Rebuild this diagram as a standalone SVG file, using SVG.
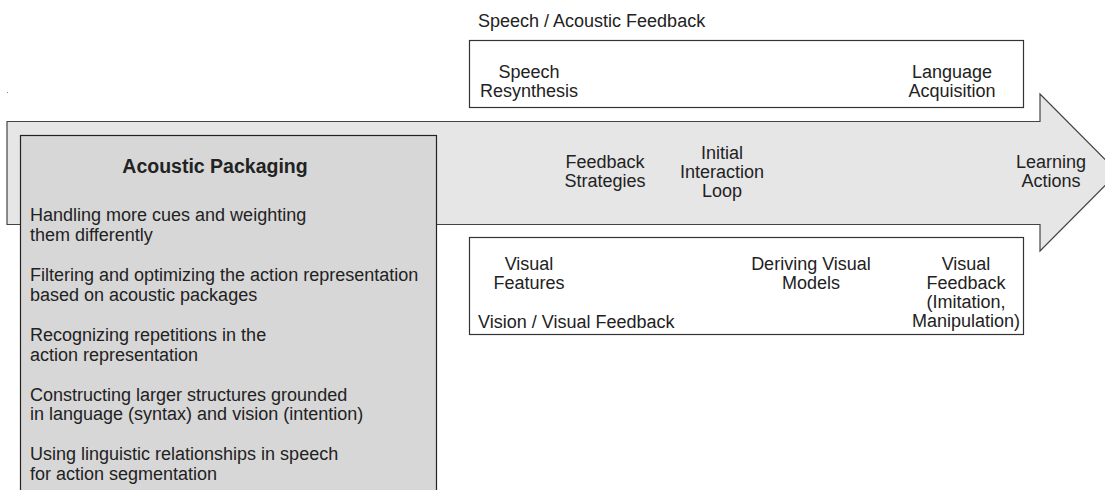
<svg xmlns="http://www.w3.org/2000/svg" width="1105" height="490" viewBox="0 0 1105 490">
  <style>
    text { font-family: "Liberation Sans", Arial, sans-serif; font-size: 18px; fill: #222; }
    .c { text-anchor: middle; }
    .title { font-weight: bold; font-size: 19.5px; }
    .box { fill: #fff; stroke: #333; stroke-width: 1.2; }
  </style>
  <rect width="1105" height="490" fill="#fff"/>
  <rect x="7" y="92" width="1" height="1" fill="#888"/>

  <!-- main process arrow -->
  <g id="arrow">
    <path d="M7,121.5 H1040 V94 L1118,172.5 L1040,251 V224.5 H7 Z" fill="#e6e6e6" stroke="#444" stroke-width="1.2"/>
    <text class="c" x="605" y="168">Feedback</text>
    <text class="c" x="605" y="187">Strategies</text>
    <text class="c" x="722" y="159">Initial</text>
    <text class="c" x="722" y="178">Interaction</text>
    <text class="c" x="722" y="197">Loop</text>
    <text class="c" x="1051" y="168">Learning</text>
    <text class="c" x="1051" y="187">Actions</text>
  </g>

  <!-- speech / acoustic feedback -->
  <g id="speech">
    <rect class="box" x="469.5" y="40.5" width="554" height="67"/>
    <text x="478" y="27">Speech / Acoustic Feedback</text>
    <text class="c" x="529" y="78">Speech</text>
    <text class="c" x="529" y="97">Resynthesis</text>
    <text class="c" x="952" y="78">Language</text>
    <text class="c" x="952" y="97">Acquisition</text>
  </g>

  <!-- vision / visual feedback -->
  <g id="vision">
    <rect class="box" x="469.5" y="237.5" width="554" height="97"/>
    <text class="c" x="529" y="270">Visual</text>
    <text class="c" x="529" y="289">Features</text>
    <text x="478" y="328">Vision / Visual Feedback</text>
    <text class="c" x="811" y="270">Deriving Visual</text>
    <text class="c" x="811" y="289">Models</text>
    <text class="c" x="966" y="270">Visual</text>
    <text class="c" x="966" y="289">Feedback</text>
    <text class="c" x="966" y="308">(Imitation,</text>
    <text class="c" x="966" y="327">Manipulation)</text>
  </g>

  <!-- acoustic packaging -->
  <g id="acoustic-packaging">
    <rect x="20.5" y="135.5" width="416" height="370" fill="#d7d7d7" stroke="#222" stroke-width="1.2"/>
    <text class="c title" x="215" y="173">Acoustic Packaging</text>
    <text x="30" y="221">Handling more cues and weighting</text>
    <text x="30" y="240.5">them differently</text>
    <text x="30" y="281">Filtering and optimizing the action representation</text>
    <text x="30" y="300.5">based on acoustic packages</text>
    <text x="30" y="341">Recognizing repetitions in the</text>
    <text x="30" y="360.5">action representation</text>
    <text x="30" y="400.5">Constructing larger structures grounded</text>
    <text x="30" y="420">in language (syntax) and vision (intention)</text>
    <text x="30" y="460">Using linguistic relationships in speech</text>
    <text x="30" y="479.5">for action segmentation</text>
  </g>
</svg>
